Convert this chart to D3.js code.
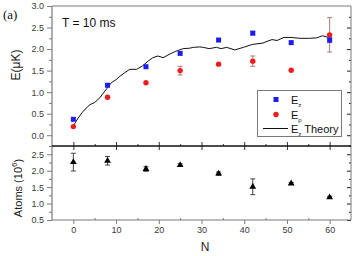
<!DOCTYPE html>
<html><head><meta charset="utf-8">
<script src="https://d3js.org/d3.v7.min.js"></script>
<style>body{margin:0;background:#fff}svg{display:block}</style>
</head><body>
<script>
// ---- data ----
const nValues   = [0, 8, 17, 25, 34, 42, 51, 60];
const ezValues  = [0.37, 1.16, 1.59, 1.90, 2.21, 2.37, 2.15, 2.21];
const ezErrors  = [0, 0, 0, 0, 0, 0.04, 0, 0.06];
const erhoValues = [0.20, 0.88, 1.22, 1.50, 1.65, 1.72, 1.51, 2.33];
const erhoErrors = [0, 0, 0, 0.10, 0, 0.12, 0, 0.40];
const atomValues = [2.26, 2.30, 2.05, 2.17, 1.91, 1.51, 1.61, 1.19];
const atomErrors = [0.27, 0.13, 0.07, 0.04, 0.05, 0.24, 0.03, 0.03];
const theoryN = [0, 1, 2, 3, 3.9, 5, 6.2, 7.8, 8.9, 10, 10.9, 12, 13.2, 14.8, 16.2, 17.5, 18.6, 19.8, 21, 22.5, 24, 25.7, 27.2, 28.1, 29.6, 30.4, 31.8, 33.5, 34.6, 35.9, 37.8, 39.8, 42, 44.4, 45.1, 46.5, 47.7, 49.3, 51, 53, 55.3, 57, 58.3, 59.7];
const theoryE = [0.22, 0.38, 0.52, 0.63, 0.71, 0.76, 0.87, 1.08, 1.22, 1.29, 1.37, 1.45, 1.53, 1.53, 1.61, 1.72, 1.80, 1.84, 1.80, 1.88, 1.95, 2.01, 2.02, 2.04, 2.05, 2.04, 2.01, 2.04, 2.01, 2.04, 1.98, 2.04, 2.11, 2.14, 2.17, 2.22, 2.20, 2.27, 2.27, 2.25, 2.25, 2.26, 2.31, 2.27];
const xTicks = [0, 10, 20, 30, 40, 50, 60];
const yTopTicks = [0, 0.5, 1.0, 1.5, 2.0, 2.5, 3.0];
const yBotTicks = [0.5, 1.0, 1.5, 2.0, 2.5];

const W = 354, H = 256;
const L = 52, R = 351, T = 6, MID = 146, B = 220;
const svg = d3.select("body").append("svg").attr("width", W).attr("height", H);
const font = "Liberation Sans, Arial, sans-serif";
const frame = "#7a7a7a", txt = "#3a3a3a";

const x = d3.scaleLinear().domain([-5, 65]).range([L, R]);
const yT = d3.scaleLinear().domain([-0.25, 3.0]).range([MID, T]);
const yB = d3.scaleLinear().domain([0.5, 2.75]).range([B, MID]);

function styleAxis(g, color) {
  g.select(".domain").remove();
  g.selectAll(".tick line").attr("stroke", color);
  g.selectAll(".tick text").attr("fill", txt).style("font-family", font).style("font-size", "9px");
}
function minors(a, b, step) { const r = []; for (let v = a; v <= b + 1e-9; v += step) r.push(+v.toFixed(3)); return r; }
function plainTicks(g, color) { g.select(".domain").remove(); g.selectAll("line").attr("stroke", color); }

// top panel left axis
const gTL = svg.append("g").attr("transform", `translate(${L},0)`)
  .call(d3.axisLeft(yT).tickValues(yTopTicks).tickFormat(d3.format(".1f")).tickSize(5).tickPadding(3));
styleAxis(gTL, frame);
svg.append("g").attr("transform", `translate(${L},0)`)
  .call(d3.axisLeft(yT).tickValues(minors(0.25, 2.75, 0.5)).tickFormat("").tickSize(3))
  .call(g => plainTicks(g, frame));
// top right (inward)
svg.append("g").attr("transform", `translate(${R},0)`)
  .call(d3.axisLeft(yT).tickValues(yTopTicks.filter(v => v < 3)).tickFormat("").tickSize(4))
  .call(g => plainTicks(g, "#222"));
svg.append("g").attr("transform", `translate(${R},0)`)
  .call(d3.axisLeft(yT).tickValues(minors(0.25, 2.75, 0.5)).tickFormat("").tickSize(2))
  .call(g => plainTicks(g, "#222"));

// bottom panel left
const gBL = svg.append("g").attr("transform", `translate(${L},0)`)
  .call(d3.axisLeft(yB).tickValues(yBotTicks).tickFormat(d3.format(".1f")).tickSize(5).tickPadding(3));
styleAxis(gBL, frame);
svg.append("g").attr("transform", `translate(${L},0)`)
  .call(d3.axisLeft(yB).tickValues(minors(0.75, 2.75, 0.5)).tickFormat("").tickSize(3))
  .call(g => plainTicks(g, frame));
svg.append("g").attr("transform", `translate(${R},0)`)
  .call(d3.axisLeft(yB).tickValues(yBotTicks).tickFormat("").tickSize(4))
  .call(g => plainTicks(g, "#222"));
svg.append("g").attr("transform", `translate(${R},0)`)
  .call(d3.axisLeft(yB).tickValues(minors(0.75, 2.75, 0.5)).tickFormat("").tickSize(2))
  .call(g => plainTicks(g, "#222"));

// bottom x axis
const gX = svg.append("g").attr("transform", `translate(0,${B})`)
  .call(d3.axisBottom(x).tickValues(xTicks).tickSize(4).tickPadding(3));
styleAxis(gX, frame);
svg.append("g").attr("transform", `translate(0,${B})`)
  .call(d3.axisTop(x).tickValues(minors(5, 55, 10)).tickFormat("").tickSize(2))
  .call(g => plainTicks(g, frame));

// middle divider ticks (both directions)
svg.append("g").attr("transform", `translate(0,${MID})`)
  .call(d3.axisBottom(x).tickValues(xTicks).tickFormat("").tickSize(4))
  .call(g => plainTicks(g, "#333"));
svg.append("g").attr("transform", `translate(0,${MID})`)
  .call(d3.axisTop(x).tickValues(xTicks).tickFormat("").tickSize(4))
  .call(g => plainTicks(g, "#333"));
svg.append("g").attr("transform", `translate(0,${MID})`)
  .call(d3.axisTop(x).tickValues(minors(5, 55, 10)).tickFormat("").tickSize(2))
  .call(g => plainTicks(g, "#333"));

// frame lines
svg.append("line").attr("x1", L).attr("x2", R).attr("y1", T).attr("y2", T).attr("stroke", frame).attr("stroke-width", 1.2);
svg.append("line").attr("x1", L).attr("x2", L).attr("y1", T).attr("y2", B).attr("stroke", frame).attr("stroke-width", 1.2);
svg.append("line").attr("x1", R).attr("x2", R).attr("y1", T).attr("y2", B).attr("stroke", frame).attr("stroke-width", 1);
svg.append("line").attr("x1", L).attr("x2", R).attr("y1", B).attr("y2", B).attr("stroke", frame).attr("stroke-width", 1.2);
svg.append("line").attr("x1", L).attr("x2", R).attr("y1", MID).attr("y2", MID).attr("stroke", "#111").attr("stroke-width", 1.3);

// theory line
svg.append("path").datum(theoryN.map((n, i) => [n, theoryE[i]]))
  .attr("d", d3.line().x(d => x(d[0])).y(d => yT(d[1])))
  .attr("fill", "none").attr("stroke", "#111").attr("stroke-width", 1);

function errBars(vals, errs, ys, color) {
  nValues.forEach((n, i) => {
    if (!errs[i]) return;
    const cx = x(n), y1 = ys(vals[i] - errs[i]), y2 = ys(vals[i] + errs[i]);
    svg.append("line").attr("x1", cx).attr("x2", cx).attr("y1", y1).attr("y2", y2).attr("stroke", color).attr("stroke-width", 1);
    [y1, y2].forEach(yy => svg.append("line").attr("x1", cx - 2.5).attr("x2", cx + 2.5).attr("y1", yy).attr("y2", yy).attr("stroke", color).attr("stroke-width", 1));
  });
}
errBars(erhoValues, erhoErrors, yT, "#b07a7a");
errBars(ezValues, ezErrors, yT, "#5a5ad0");
errBars(atomValues, atomErrors, yB, "#444");

// markers
svg.selectAll(".ez").data(nValues).enter().append("rect")
  .attr("x", (d) => x(d) - 2.5).attr("y", (d, i) => yT(ezValues[i]) - 2.5)
  .attr("width", 5).attr("height", 5).attr("fill", "#1c1cf0");
svg.selectAll(".er").data(nValues).enter().append("circle")
  .attr("cx", d => x(d)).attr("cy", (d, i) => yT(erhoValues[i])).attr("r", 2.7).attr("fill", "#f01c1c");
svg.selectAll(".at").data(nValues).enter().append("path")
  .attr("d", d3.symbol(d3.symbolTriangle, 20))
  .attr("transform", (d, i) => `translate(${x(d)},${yB(atomValues[i])})`).attr("fill", "#000");

// legend
const lg = svg.append("g").style("font-family", font);
lg.append("rect").attr("x", 257.5).attr("y", 90.5).attr("width", 84).attr("height", 46)
  .attr("fill", "#fff").attr("stroke", frame).attr("stroke-width", 1);
lg.append("rect").attr("x", 273.5).attr("y", 97).attr("width", 5).attr("height", 5).attr("fill", "#1c1cf0");
lg.append("circle").attr("cx", 276).attr("cy", 114.5).attr("r", 2.7).attr("fill", "#f01c1c");
lg.append("line").attr("x1", 263).attr("x2", 288).attr("y1", 128.5).attr("y2", 128.5).attr("stroke", "#111").attr("stroke-width", 1);
function eLabel(y, sub, extra) {
  const t = lg.append("text").attr("x", 291).attr("y", y).attr("fill", "#111").style("font-size", "11px");
  t.append("tspan").text("E");
  t.append("tspan").attr("dy", 3).style("font-size", "6px").text(sub);
  if (extra) t.append("tspan").attr("dy", -3).text(extra);
}
eLabel(104, "z");
eLabel(119, "ρ");
eLabel(133, "z", " Theory");

// texts
svg.append("text").attr("x", 3).attr("y", 19).style("font-family", "Liberation Serif, Times New Roman, serif").style("font-size", "13px").attr("fill", "#111").text("(a)");
svg.append("text").attr("x", 62).attr("y", 27).style("font-family", font).style("font-size", "12px").attr("fill", "#111").text("T = 10 ms");
svg.append("text").attr("transform", "translate(20,65) rotate(-90)").attr("text-anchor", "middle")
  .style("font-family", font).style("font-size", "12px").attr("fill", "#222").text("E(μK)");
const at = svg.append("text").attr("transform", "translate(22,188) rotate(-90)").attr("text-anchor", "middle")
  .style("font-family", font).style("font-size", "11px").attr("fill", "#222");
at.append("tspan").text("Atoms (10");
at.append("tspan").attr("dy", -5).style("font-size", "8px").text("6");
at.append("tspan").attr("dy", 5).text(")");
svg.append("text").attr("x", 205).attr("y", 251).attr("text-anchor", "middle")
  .style("font-family", font).style("font-size", "12px").attr("fill", "#222").text("N");
</script>
</body></html>
